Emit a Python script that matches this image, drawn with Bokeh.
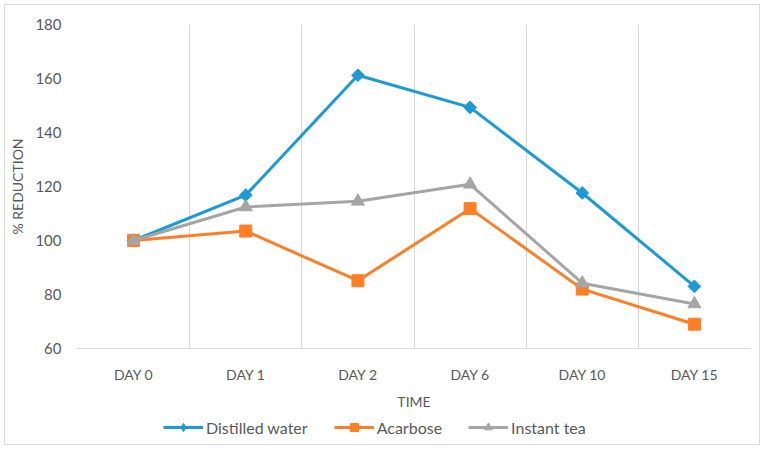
import math
from bokeh.plotting import figure
from bokeh.layouts import column
from bokeh.models import Range1d, FixedTicker, Legend, LegendItem, ColumnDataSource
from bokeh.embed import file_html
from bokeh.resources import INLINE

days = ["DAY 0", "DAY 1", "DAY 2", "DAY 6", "DAY 10", "DAY 15"]
distilled_water = [100, 116.8, 161.2, 149.3, 117.6, 83.0]
acarbose = [100, 103.5, 85.1, 111.8, 82.0, 69.0]
instant_tea = [100, 112.4, 114.5, 120.8, 84.2, 76.5]
y_ticks = [60, 80, 100, 120, 140, 160, 180]

FONT = "Lato"
TXT = "#595959"
GRID = "#d9d9d9"

xpos = [i + 0.5 for i in range(len(days))]

p = figure(width=754, height=407, output_backend="svg", toolbar_location=None,
           x_range=Range1d(0, len(days)), y_range=Range1d(y_ticks[0], y_ticks[-1]),
           min_border_left=72, min_border_right=9, min_border_top=19, min_border_bottom=58)
p.outline_line_color = None
p.background_fill_color = "white"
p.border_fill_color = "white"

# x axis
p.xaxis.ticker = FixedTicker(ticks=xpos)
p.xaxis.major_label_overrides = {x: d for x, d in zip(xpos, days)}
p.xaxis.major_tick_line_color = None
p.xaxis.minor_tick_line_color = None
p.xaxis.major_tick_out = 0
p.xaxis.major_tick_in = 0
p.xaxis.axis_line_color = GRID
p.xaxis.major_label_text_font = FONT
p.xaxis.major_label_text_font_size = "14px"
p.xaxis.major_label_text_color = TXT
p.xaxis.major_label_standoff = 17
p.xaxis.axis_label = "TIME"
p.xaxis.axis_label_text_font = FONT
p.xaxis.axis_label_text_font_style = "normal"
p.xaxis.axis_label_text_font_size = "14px"
p.xaxis.axis_label_text_color = TXT
p.xaxis.axis_label_standoff = 7

# y axis
p.yaxis.ticker = FixedTicker(ticks=y_ticks)
p.yaxis.major_tick_line_color = None
p.yaxis.minor_tick_line_color = None
p.yaxis.major_tick_out = 0
p.yaxis.major_tick_in = 0
p.yaxis.axis_line_color = None
p.yaxis.major_label_text_font = FONT
p.yaxis.major_label_text_font_size = "15px"
p.yaxis.major_label_text_color = TXT
p.yaxis.major_label_standoff = 16
p.yaxis.axis_label = "% REDUCTION"
p.yaxis.axis_label_text_font = FONT
p.yaxis.axis_label_text_font_style = "normal"
p.yaxis.axis_label_text_font_size = "14px"
p.yaxis.axis_label_text_color = TXT
p.yaxis.axis_label_standoff = 6

# grids
p.ygrid.grid_line_color = None
p.xgrid.ticker = FixedTicker(ticks=list(range(len(days) + 1)))
p.xgrid.grid_line_color = GRID
p.xgrid.grid_line_width = 1

# name, values, colour, marker, size, angle, legend marker, legend size
series = [
    ("Distilled water", distilled_water, "#1b9ad6", "square", 9, math.pi / 4, "diamond", 14),
    ("Acarbose", acarbose, "#ff7f27", "square", 12, 0, "square", 12),
    ("Instant tea", instant_tea, "#a5a5a5", "triangle", 13, 0, "triangle", 13),
]

# legend strip below the chart (its ranges keep the series out of view;
# only the legend entries are visible there)
lg = figure(width=754, height=32, output_backend="svg", toolbar_location=None,
            x_range=Range1d(0, 1), y_range=Range1d(0, 1),
            min_border_left=0, min_border_right=0, min_border_top=0, min_border_bottom=0)
lg.axis.visible = False
lg.grid.visible = False
lg.outline_line_color = None
lg.border_fill_color = "white"

items = []
for name, vals, color, marker, size, ang, lmarker, lsize in series:
    src = ColumnDataSource(dict(x=xpos, y=vals))
    p.line("x", "y", source=src, line_color=color, line_width=3)
    p.scatter("x", "y", source=src, marker=marker, size=size, angle=ang,
              fill_color=color, line_color=color)
    l2 = lg.line("x", "y", source=src, line_color=color, line_width=3)
    m2 = lg.scatter("x", "y", source=src, marker=lmarker, size=lsize,
                    fill_color=color, line_color=color)
    items.append(LegendItem(label=name, renderers=[l2, m2]))

legend = Legend(items=items, orientation="horizontal", location=(86, 7),
                label_text_font=FONT, label_text_font_size="16px",
                label_text_color=TXT, glyph_width=40, spacing=26,
                padding=2, margin=0, border_line_color=None,
                background_fill_alpha=0, label_standoff=3)
lg.add_layout(legend, "center")

layout = column(p, lg, spacing=0,
                styles={"border": "1px solid #d9d9d9", "margin": "4px"})

open("out.html", "w").write(file_html(layout, INLINE))
